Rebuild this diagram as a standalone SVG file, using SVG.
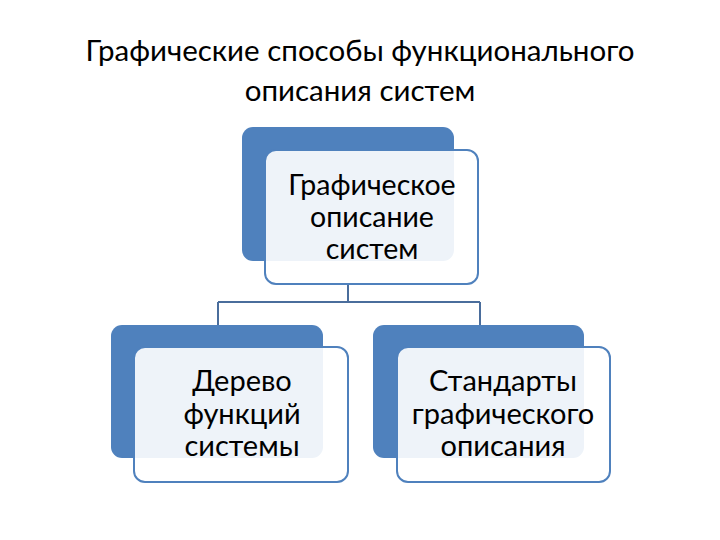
<svg xmlns="http://www.w3.org/2000/svg" width="720" height="540" viewBox="0 0 720 540">
<style>
.back{fill:#4f81bd}
.front{fill:#ffffff;fill-opacity:0.9;stroke:#4f81bd;stroke-width:2}
.conn{fill:none;stroke:#4a6d9c;stroke-width:2}
.t{font-family:Lato,"Liberation Sans",sans-serif;fill:#000;text-anchor:middle}
.title{font-size:29.5px}
.lbl{font-size:29px}
.lt{font-size:28.5px}
</style>
<rect width="720" height="540" fill="#fff"/>
<g id="title">
<text class="t title" x="360" y="61">Графические способы функционального</text>
<text class="t title" x="360" y="101">описания систем</text>
</g>
<g id="connectors">
<path class="conn" d="M348,285 V302 M218,302 H480 M218,302 V325 M480,302 V325"/>
</g>
<g id="node-top">
<rect class="back" x="242" y="127" width="212" height="134" rx="11"/>
<rect class="front" x="265" y="150" width="213" height="134" rx="11"/>
<text class="t lt" x="372" y="195">Графическое</text>
<text class="t lt" x="372" y="227">описание</text>
<text class="t lt" x="372" y="259">систем</text>
</g>
<g id="node-left">
<rect class="back" x="111" y="325" width="212" height="133" rx="11"/>
<rect class="front" x="134" y="347" width="214" height="135" rx="11"/>
<text class="t lbl" x="242" y="391">Дерево</text>
<text class="t lbl" x="242" y="424">функций</text>
<text class="t lbl" x="242" y="456">системы</text>
</g>
<g id="node-right">
<rect class="back" x="373" y="325" width="211" height="133" rx="11"/>
<rect class="front" x="397" y="347" width="213" height="135" rx="11"/>
<text class="t lbl" x="503" y="391">Стандарты</text>
<text class="t lbl" x="503" y="424">графического</text>
<text class="t lbl" x="503" y="456">описания</text>
</g>
</svg>
